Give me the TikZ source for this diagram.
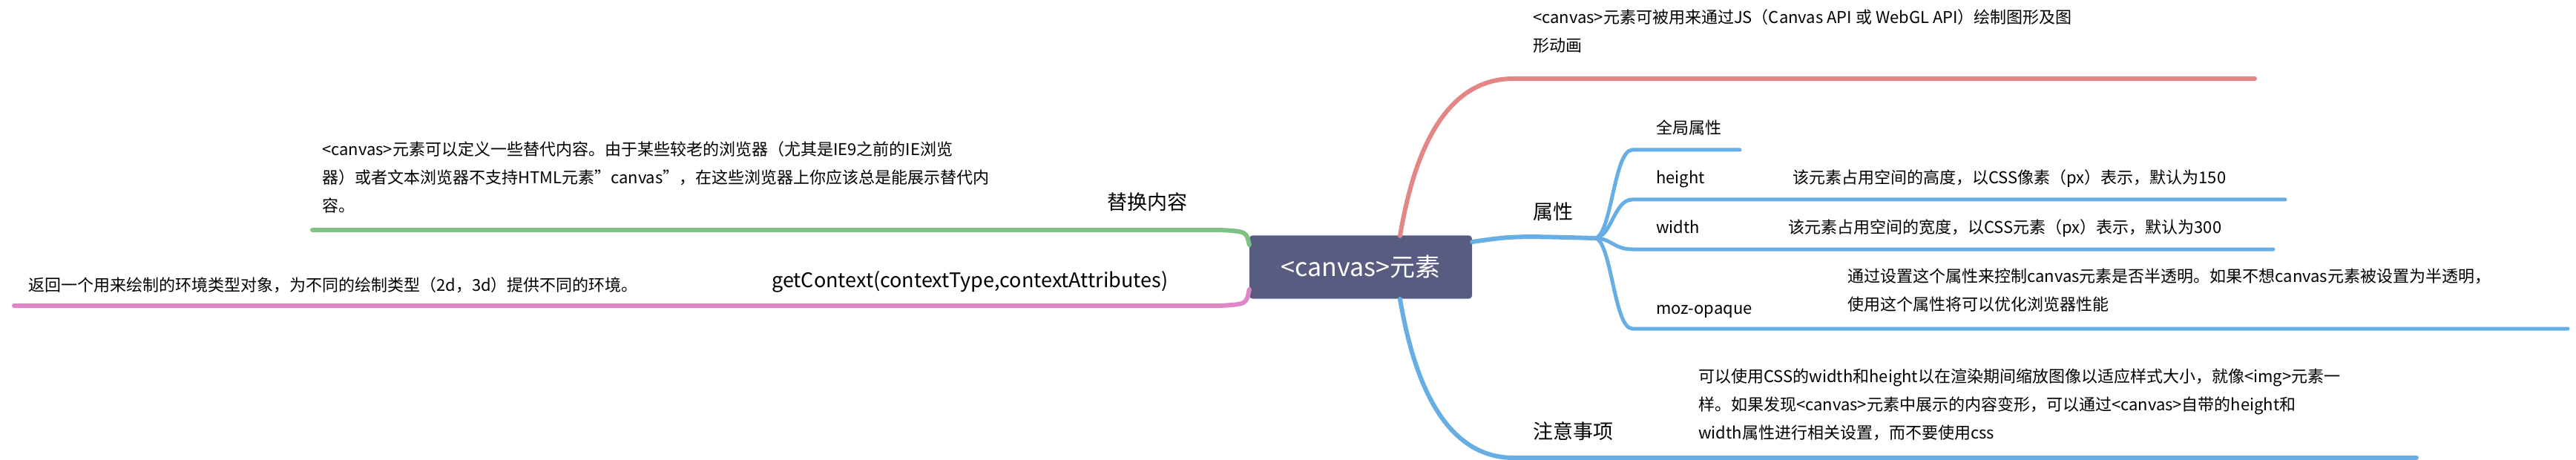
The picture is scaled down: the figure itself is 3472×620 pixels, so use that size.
\documentclass[tikz,border=0pt]{standalone}
\usepackage{fontspec}
\setmainfont{Noto Sans CJK SC}
\usetikzlibrary{positioning}
\definecolor{rootc}{HTML}{575C80}
\definecolor{redc}{HTML}{E48586}
\definecolor{greenc}{HTML}{7DC183}
\definecolor{pinkc}{HTML}{DE86C6}
\definecolor{bluec}{HTML}{66AEE3}
\begin{document}
\begin{tikzpicture}[
        x=1pt, y=-1pt,
        rootbox/.style = {rectangle, rounded corners=4pt, fill=rootc, text=white,
                minimum width=300pt, minimum height=85pt, font=\fontsize{34}{40}\selectfont},
        topic/.style = {anchor=base west, inner sep=0pt, font=\fontsize{27}{32}\selectfont},
        sub/.style = {anchor=base west, inner sep=0pt, font=\fontsize{22}{26}\selectfont},
        desc/.style = {anchor=north west, inner sep=0pt, align=left, font=\fontsize{22}{38}\selectfont},
        branch/.style = {line width=6pt, line cap=round},
        twig/.style = {line width=5pt, line cap=round, draw=bluec}
    ]
    \useasboundingbox (0,0) rectangle (3472,620);
    \node[rootbox] (root) at (1834,360) {<canvas>元素};

    % right side
    \node[desc] (redtxt) at (2066,12) {<canvas>元素可被用来通过JS（Canvas API 或 WebGL API）绘制图形及图\\形动画};
    \coordinate (reda) at (2040,106);
    \coordinate (redb) at (3039,106);
    \draw[branch,redc] (1887,318) .. controls (1910,180) and (1960,106) .. (reda) -- (redb);

    \node[topic] (attr) at (2066,296) {属性};
    \coordinate (attrj) at (2149,321);
    \draw[branch,bluec] (root.east |- 0,326) .. controls (2040,318) .. (attrj);

    \node[sub] (global) at (2232,181) {全局属性};
    \coordinate (globala) at (2200,202);
    \coordinate (globalb) at (2345,202);
    \node[sub] (height) at (2232,248) {height};
    \node[sub] (heightd) at (2416,248) {该元素占用空间的高度，以CSS像素（px）表示，默认为150};
    \coordinate (heighta) at (2200,269);
    \coordinate (heightb) at (3080,269);
    \node[sub] (width) at (2232,315) {width};
    \node[sub] (widthd) at (2410,315) {该元素占用空间的宽度，以CSS元素（px）表示，默认为300};
    \coordinate (widtha) at (2200,336);
    \coordinate (widthb) at (3064,336);
    \node[sub] (moz) at (2232,423) {moz-opaque};
    \node[desc] (mozd) at (2490,362) {通过设置这个属性来控制canvas元素是否半透明。如果不想canvas元素被设置为半透明，\\使用这个属性将可以优化浏览器性能};
    \coordinate (moza) at (2200,443);
    \coordinate (mozb) at (3461,443);
    \foreach \a/\b in {globala/globalb, heighta/heightb, widtha/widthb, moza/mozb}
        \draw[twig] (attrj) .. controls (2172,321) and ([xshift=-25pt]\a) .. (\a) -- (\b);

    \node[topic] (note) at (2066,591) {注意事项};
    \node[desc] (noted) at (2289,497) {可以使用CSS的width和height以在渲染期间缩放图像以适应样式大小，就像<img>元素一\\样。如果发现<canvas>元素中展示的内容变形，可以通过<canvas>自带的height和\\width属性进行相关设置，而不要使用css};
    \coordinate (notea) at (2040,617);
    \coordinate (noteb) at (3257,617);
    \draw[branch,bluec] (1887,403) .. controls (1910,540) and (1960,617) .. (notea) -- (noteb);

    % left side
    \node[topic] (alt) at (1492,283) {替换内容};
    \node[desc] (altd) at (434,190) {<canvas>元素可以定义一些替代内容。由于某些较老的浏览器（尤其是IE9之前的IE浏览\\器）或者文本浏览器不支持HTML元素"canvas"，在这些浏览器上你应该总是能展示替代内\\容。};
    \coordinate (alta) at (1645,310);
    \coordinate (altb) at (421,310);
    \draw[branch,greenc] (root.west |- 0,330) .. controls (1680,312) .. (alta) -- (altb);

    \node[topic] (ctx) at (1040,387) {getContext(contextType,contextAttributes)};
    \node[sub] (ctxd) at (38,392) {返回一个用来绘制的环境类型对象，为不同的绘制类型（2d，3d）提供不同的环境。};
    \coordinate (ctxa) at (1645,412);
    \coordinate (ctxb) at (19,412);
    \draw[branch,pinkc] (root.west |- 0,390) .. controls (1680,410) .. (ctxa) -- (ctxb);
\end{tikzpicture}
\end{document}
